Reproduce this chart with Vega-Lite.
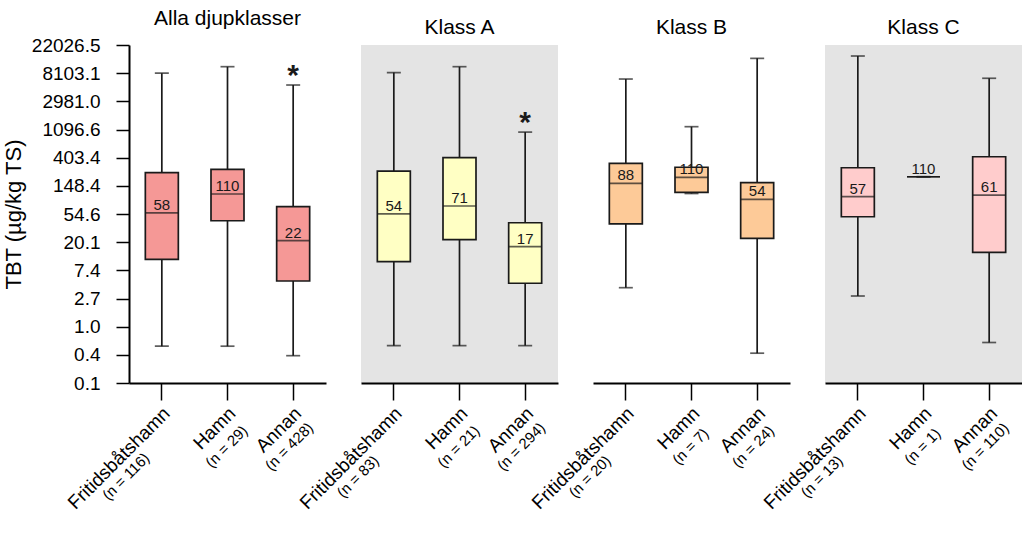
{
  "$schema": "https://vega.github.io/schema/vega-lite/v6.json",
  "padding": {"left": 2, "top": 8, "right": 0, "bottom": 0},
  "background": "white",
  "bounds": "flush",
  "data": {"values": [
    {"panel": "Alla djupklasser", "cat": "Fritidsbåtshamn|(n = 116)", "min": 0.50, "q1": 10.9, "median": 57, "q3": 237, "max": 8100, "label": "58", "star": false},
    {"panel": "Alla djupklasser", "cat": "Hamn|(n = 29)", "min": 0.50, "q1": 43, "median": 111, "q3": 267, "max": 10200, "label": "110", "star": false},
    {"panel": "Alla djupklasser", "cat": "Annan|(n = 428)", "min": 0.357, "q1": 5.06, "median": 21.2, "q3": 70.8, "max": 5320, "label": "22", "star": true},
    {"panel": "Klass A", "cat": "Fritidsbåtshamn|(n = 83)", "min": 0.51, "q1": 10.1, "median": 54.7, "q3": 251, "max": 8270, "label": "54", "star": false},
    {"panel": "Klass A", "cat": "Hamn|(n = 21)", "min": 0.51, "q1": 22, "median": 72.5, "q3": 403, "max": 10200, "label": "71", "star": false},
    {"panel": "Klass A", "cat": "Annan|(n = 294)", "min": 0.51, "q1": 4.67, "median": 17.1, "q3": 40, "max": 1000, "label": "17", "star": true},
    {"panel": "Klass B", "cat": "Fritidsbåtshamn|(n = 20)", "min": 3.99, "q1": 38.4, "median": 162, "q3": 330, "max": 6580, "label": "88", "star": false},
    {"panel": "Klass B", "cat": "Hamn|(n = 7)", "min": 113, "q1": 118, "median": 201, "q3": 287, "max": 1212, "label": "110", "star": false},
    {"panel": "Klass B", "cat": "Annan|(n = 24)", "min": 0.39, "q1": 23, "median": 92, "q3": 166, "max": 13700, "label": "54", "star": false},
    {"panel": "Klass C", "cat": "Fritidsbåtshamn|(n = 13)", "min": 2.97, "q1": 49.5, "median": 101, "q3": 282, "max": 14900, "label": "57", "star": false},
    {"panel": "Klass C", "cat": "Hamn|(n = 1)", "min": 205, "q1": 205, "median": 205, "q3": 205, "max": 205, "label": "110", "star": false},
    {"panel": "Klass C", "cat": "Annan|(n = 110)", "min": 0.57, "q1": 14, "median": 107, "q3": 417, "max": 6760, "label": "61", "star": false}
  ]},
  "spacing": 35,
  "hconcat": [
    {
      "width": 197, "height": 338,
      "title": "Alla djupklasser",
      "transform": [{"filter": "datum.panel == 'Alla djupklasser'"}],
      "resolve": {"axis": {"x": "independent"}},
      "layer": [
        {"mark": {"type": "rule", "color": "#1a1a1a", "strokeWidth": 1.7},
         "encoding": {
           "x": {"field": "cat", "type": "nominal", "sort": null, "scale": {"type": "band", "paddingInner": 0, "paddingOuter": 0},
                 "axis": {"orient": "bottom", "title": null, "labelExpr": "split(datum.value, '|')[0]", "labelAngle": -45, "labelAlign": "right", "labelBaseline": "middle", "labelFontSize": 19, "labelOffset": 5, "labelPadding": 10, "tickSize": 17, "tickWidth": 1.5, "domainWidth": 2, "labelOverlap": false}},
           "y": {"field": "min", "type": "quantitative",
                 "scale": {"type": "log", "base": 2.718281828459045, "domain": [0.1353352832366127, 22026.465794806718], "nice": false},
                 "axis": {"title": "TBT (µg/kg TS)", "format": ".1f",
                          "values": [0.1353352832366127, 0.36787944117144233, 1, 2.718281828459045, 7.38905609893065, 20.085536923187668, 54.598150033144236, 148.4131591025766, 403.4287934927351, 1096.6331584284585, 2980.9579870417283, 8103.083927575384, 22026.465794806718]}},
           "y2": {"field": "max"}
         }},
        {"mark": {"type": "tick", "color": "#1a1a1a", "size": 14, "thickness": 1.7},
         "encoding": {
           "x": {"field": "cat", "type": "nominal", "sort": null,
                 "axis": {"orient": "bottom", "title": null, "labelExpr": "split(datum.value, '|')[1]", "labelAngle": -45, "labelAlign": "center", "labelBaseline": "middle", "labelFontSize": 15, "domain": false, "tickSize": 17, "tickOpacity": 0, "labelOverlap": false,
                          "labelOffset": {"condition": [{"test": "indexof(datum.value, 'Fritids') == 0", "value": -36}, {"test": "indexof(datum.value, 'Annan') == 0", "value": -4}], "value": -1},
                          "labelPadding": {"condition": {"test": "indexof(datum.value, 'Fritids') == 0", "value": 76}, "value": 46}}},
           "y": {"field": "min", "type": "quantitative"}
         }},
        {"mark": {"type": "tick", "color": "#1a1a1a", "size": 14, "thickness": 1.7},
         "encoding": {"x": {"field": "cat", "type": "nominal", "sort": null, "axis": null}, "y": {"field": "max", "type": "quantitative"}}},
        {"mark": {"type": "bar", "size": 33, "fill": "#f59896", "stroke": "#1a1a1a", "strokeWidth": 1.7},
         "encoding": {"x": {"field": "cat", "type": "nominal", "sort": null, "axis": null}, "y": {"field": "q1", "type": "quantitative"}, "y2": {"field": "q3"}}},
        {"mark": {"type": "tick", "color": "#1a1a1a", "size": 33, "thickness": 1.7},
         "encoding": {"x": {"field": "cat", "type": "nominal", "sort": null, "axis": null}, "y": {"field": "median", "type": "quantitative"}}},
        {"mark": {"type": "text", "fontSize": 15, "color": "#1a1a1a", "baseline": "alphabetic", "dy": -3},
         "encoding": {"x": {"field": "cat", "type": "nominal", "sort": null, "axis": null}, "y": {"field": "median", "type": "quantitative"}, "text": {"field": "label"}}},
        {"transform": [{"filter": "datum.star"}],
         "mark": {"type": "text", "fontSize": 30, "fontWeight": "bold", "color": "#1a1a1a", "baseline": "alphabetic", "dy": 0},
         "encoding": {"x": {"field": "cat", "type": "nominal", "sort": null, "axis": null}, "y": {"field": "max", "type": "quantitative"}, "text": {"value": "*"}}}
      ]
    },
    {
      "width": 197, "height": 338,
      "title": "Klass A",
      "view": {"fill": "#e4e4e4", "stroke": null},
      "transform": [{"filter": "datum.panel == 'Klass A'"}],
      "resolve": {"axis": {"x": "independent"}},
      "layer": [
        {"mark": {"type": "rule", "color": "#1a1a1a", "strokeWidth": 1.7},
         "encoding": {
           "x": {"field": "cat", "type": "nominal", "sort": null, "scale": {"type": "band", "paddingInner": 0, "paddingOuter": 0},
                 "axis": {"orient": "bottom", "title": null, "labelExpr": "split(datum.value, '|')[0]", "labelAngle": -45, "labelAlign": "right", "labelBaseline": "middle", "labelFontSize": 19, "labelOffset": 5, "labelPadding": 10, "tickSize": 17, "tickWidth": 1.5, "domainWidth": 2, "labelOverlap": false}},
           "y": {"field": "min", "type": "quantitative",
                 "scale": {"type": "log", "base": 2.718281828459045, "domain": [0.1353352832366127, 22026.465794806718], "nice": false}, "axis": null},
           "y2": {"field": "max"}
         }},
        {"mark": {"type": "tick", "color": "#1a1a1a", "size": 14, "thickness": 1.7},
         "encoding": {
           "x": {"field": "cat", "type": "nominal", "sort": null,
                 "axis": {"orient": "bottom", "title": null, "labelExpr": "split(datum.value, '|')[1]", "labelAngle": -45, "labelAlign": "center", "labelBaseline": "middle", "labelFontSize": 15, "domain": false, "tickSize": 17, "tickOpacity": 0, "labelOverlap": false,
                          "labelOffset": {"condition": [{"test": "indexof(datum.value, 'Fritids') == 0", "value": -36}, {"test": "indexof(datum.value, 'Annan') == 0", "value": -4}], "value": -1},
                          "labelPadding": {"condition": {"test": "indexof(datum.value, 'Fritids') == 0", "value": 76}, "value": 46}}},
           "y": {"field": "min", "type": "quantitative", "axis": null}
         }},
        {"mark": {"type": "tick", "color": "#1a1a1a", "size": 14, "thickness": 1.7},
         "encoding": {"x": {"field": "cat", "type": "nominal", "sort": null, "axis": null}, "y": {"field": "max", "type": "quantitative", "axis": null}}},
        {"mark": {"type": "bar", "size": 33, "fill": "#ffffc4", "stroke": "#1a1a1a", "strokeWidth": 1.7},
         "encoding": {"x": {"field": "cat", "type": "nominal", "sort": null, "axis": null}, "y": {"field": "q1", "type": "quantitative", "axis": null}, "y2": {"field": "q3"}}},
        {"mark": {"type": "tick", "color": "#1a1a1a", "size": 33, "thickness": 1.7},
         "encoding": {"x": {"field": "cat", "type": "nominal", "sort": null, "axis": null}, "y": {"field": "median", "type": "quantitative", "axis": null}}},
        {"mark": {"type": "text", "fontSize": 15, "color": "#1a1a1a", "baseline": "alphabetic", "dy": -3},
         "encoding": {"x": {"field": "cat", "type": "nominal", "sort": null, "axis": null}, "y": {"field": "median", "type": "quantitative", "axis": null}, "text": {"field": "label"}}},
        {"transform": [{"filter": "datum.star"}],
         "mark": {"type": "text", "fontSize": 30, "fontWeight": "bold", "color": "#1a1a1a", "baseline": "alphabetic", "dy": 0},
         "encoding": {"x": {"field": "cat", "type": "nominal", "sort": null, "axis": null}, "y": {"field": "max", "type": "quantitative", "axis": null}, "text": {"value": "*"}}}
      ]
    },
    {
      "width": 197, "height": 338,
      "title": "Klass B",
      "transform": [{"filter": "datum.panel == 'Klass B'"}],
      "resolve": {"axis": {"x": "independent"}},
      "layer": [
        {"mark": {"type": "rule", "color": "#1a1a1a", "strokeWidth": 1.7},
         "encoding": {
           "x": {"field": "cat", "type": "nominal", "sort": null, "scale": {"type": "band", "paddingInner": 0, "paddingOuter": 0},
                 "axis": {"orient": "bottom", "title": null, "labelExpr": "split(datum.value, '|')[0]", "labelAngle": -45, "labelAlign": "right", "labelBaseline": "middle", "labelFontSize": 19, "labelOffset": 5, "labelPadding": 10, "tickSize": 17, "tickWidth": 1.5, "domainWidth": 2, "labelOverlap": false}},
           "y": {"field": "min", "type": "quantitative",
                 "scale": {"type": "log", "base": 2.718281828459045, "domain": [0.1353352832366127, 22026.465794806718], "nice": false}, "axis": null},
           "y2": {"field": "max"}
         }},
        {"mark": {"type": "tick", "color": "#1a1a1a", "size": 14, "thickness": 1.7},
         "encoding": {
           "x": {"field": "cat", "type": "nominal", "sort": null,
                 "axis": {"orient": "bottom", "title": null, "labelExpr": "split(datum.value, '|')[1]", "labelAngle": -45, "labelAlign": "center", "labelBaseline": "middle", "labelFontSize": 15, "domain": false, "tickSize": 17, "tickOpacity": 0, "labelOverlap": false,
                          "labelOffset": {"condition": [{"test": "indexof(datum.value, 'Fritids') == 0", "value": -36}, {"test": "indexof(datum.value, 'Annan') == 0", "value": -4}], "value": -1},
                          "labelPadding": {"condition": {"test": "indexof(datum.value, 'Fritids') == 0", "value": 76}, "value": 46}}},
           "y": {"field": "min", "type": "quantitative", "axis": null}
         }},
        {"mark": {"type": "tick", "color": "#1a1a1a", "size": 14, "thickness": 1.7},
         "encoding": {"x": {"field": "cat", "type": "nominal", "sort": null, "axis": null}, "y": {"field": "max", "type": "quantitative", "axis": null}}},
        {"mark": {"type": "bar", "size": 33, "fill": "#fdca98", "stroke": "#1a1a1a", "strokeWidth": 1.7},
         "encoding": {"x": {"field": "cat", "type": "nominal", "sort": null, "axis": null}, "y": {"field": "q1", "type": "quantitative", "axis": null}, "y2": {"field": "q3"}}},
        {"mark": {"type": "tick", "color": "#1a1a1a", "size": 33, "thickness": 1.7},
         "encoding": {"x": {"field": "cat", "type": "nominal", "sort": null, "axis": null}, "y": {"field": "median", "type": "quantitative", "axis": null}}},
        {"mark": {"type": "text", "fontSize": 15, "color": "#1a1a1a", "baseline": "alphabetic", "dy": -3},
         "encoding": {"x": {"field": "cat", "type": "nominal", "sort": null, "axis": null}, "y": {"field": "median", "type": "quantitative", "axis": null}, "text": {"field": "label"}}}
      ]
    },
    {
      "width": 197, "height": 338,
      "title": "Klass C",
      "view": {"fill": "#e4e4e4", "stroke": null},
      "transform": [{"filter": "datum.panel == 'Klass C'"}],
      "resolve": {"axis": {"x": "independent"}},
      "layer": [
        {"mark": {"type": "rule", "color": "#1a1a1a", "strokeWidth": 1.7},
         "encoding": {
           "x": {"field": "cat", "type": "nominal", "sort": null, "scale": {"type": "band", "paddingInner": 0, "paddingOuter": 0},
                 "axis": {"orient": "bottom", "title": null, "labelExpr": "split(datum.value, '|')[0]", "labelAngle": -45, "labelAlign": "right", "labelBaseline": "middle", "labelFontSize": 19, "labelOffset": 5, "labelPadding": 10, "tickSize": 17, "tickWidth": 1.5, "domainWidth": 2, "labelOverlap": false}},
           "y": {"field": "min", "type": "quantitative",
                 "scale": {"type": "log", "base": 2.718281828459045, "domain": [0.1353352832366127, 22026.465794806718], "nice": false}, "axis": null},
           "y2": {"field": "max"}
         }},
        {"mark": {"type": "tick", "color": "#1a1a1a", "size": 14, "thickness": 1.7},
         "encoding": {
           "x": {"field": "cat", "type": "nominal", "sort": null,
                 "axis": {"orient": "bottom", "title": null, "labelExpr": "split(datum.value, '|')[1]", "labelAngle": -45, "labelAlign": "center", "labelBaseline": "middle", "labelFontSize": 15, "domain": false, "tickSize": 17, "tickOpacity": 0, "labelOverlap": false,
                          "labelOffset": {"condition": [{"test": "indexof(datum.value, 'Fritids') == 0", "value": -36}, {"test": "indexof(datum.value, 'Annan') == 0", "value": -4}], "value": -1},
                          "labelPadding": {"condition": {"test": "indexof(datum.value, 'Fritids') == 0", "value": 76}, "value": 46}}},
           "y": {"field": "min", "type": "quantitative", "axis": null}
         }},
        {"mark": {"type": "tick", "color": "#1a1a1a", "size": 14, "thickness": 1.7},
         "encoding": {"x": {"field": "cat", "type": "nominal", "sort": null, "axis": null}, "y": {"field": "max", "type": "quantitative", "axis": null}}},
        {"mark": {"type": "bar", "size": 33, "fill": "#ffcccc", "stroke": "#1a1a1a", "strokeWidth": 1.7},
         "encoding": {"x": {"field": "cat", "type": "nominal", "sort": null, "axis": null}, "y": {"field": "q1", "type": "quantitative", "axis": null}, "y2": {"field": "q3"}}},
        {"mark": {"type": "tick", "color": "#1a1a1a", "size": 33, "thickness": 1.7},
         "encoding": {"x": {"field": "cat", "type": "nominal", "sort": null, "axis": null}, "y": {"field": "median", "type": "quantitative", "axis": null}}},
        {"mark": {"type": "text", "fontSize": 15, "color": "#1a1a1a", "baseline": "alphabetic", "dy": -3},
         "encoding": {"x": {"field": "cat", "type": "nominal", "sort": null, "axis": null}, "y": {"field": "median", "type": "quantitative", "axis": null}, "text": {"field": "label"}}}
      ]
    }
  ],
  "config": {
    "font": "Liberation Sans",
    "view": {"stroke": null},
    "axis": {"labelColor": "#000", "titleColor": "#000", "domainColor": "#000", "tickColor": "#000", "labelFont": "Liberation Sans", "titleFont": "Liberation Sans", "grid": false},
    "axisY": {"titleFontSize": 22, "titleFontWeight": "normal", "titlePadding": 6, "labelFontSize": 19, "labelPadding": 16, "tickSize": 13, "tickWidth": 1.5, "domainWidth": 2, "labelOverlap": false, "labelFlush": false},
    "title": {"fontSize": 21, "fontWeight": "normal", "color": "#000", "font": "Liberation Sans", "baseline": "alphabetic", "offset": 7}
  }
}
